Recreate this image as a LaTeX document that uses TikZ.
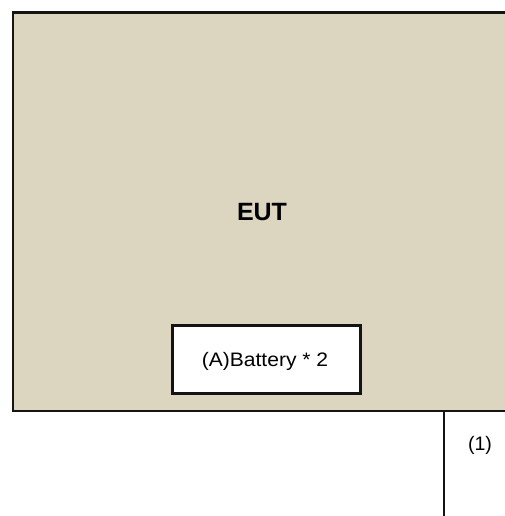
\documentclass[tikz,border=0pt]{standalone}
\usepackage{fontspec}
\setmainfont{Liberation Sans}
\definecolor{eutfill}{RGB}{220,214,193}
\definecolor{edge}{RGB}{20,20,20}
\begin{document}
\begin{tikzpicture}[x=1pt,y=-1pt,
  eutbox/.style={draw=edge,line width=2.2pt,fill=eutfill},
  batbox/.style={draw=edge,line width=2.2pt,fill=white,minimum width=188pt,minimum height=68pt,inner sep=0pt},
  wire/.style={draw=edge,line width=2pt},
  lbl/.style={font=\fontsize{19.5}{22}\selectfont,inner sep=0pt}]
\useasboundingbox (0,0) rectangle (505,516);
\clip (0,0) rectangle (505,516);
\node[eutbox,anchor=north west,minimum width=520pt,minimum height=398.5pt,inner sep=0pt] (eut) at (11.5,11.5) {};
\node[font=\bfseries\fontsize{25}{30}\selectfont,inner sep=0pt] (euttext) at (262,212) {EUT};
\node[batbox] (bat) at (266.5,359.5) {};
\node[lbl,xscale=1.08] (battext) at (265,361) {(A)Battery * 2};
\coordinate (top) at (444,410);
\coordinate (bot) at (444,520);
\draw[wire] (top) -- (bot);
\node[lbl] (l1) at (480,445) {(1)};
\end{tikzpicture}
\end{document}
